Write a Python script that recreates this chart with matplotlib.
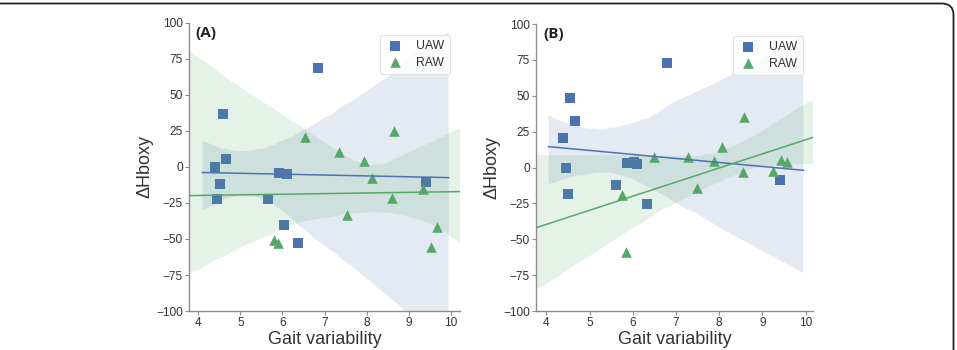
import matplotlib
matplotlib.use("Agg")
import matplotlib.pyplot as plt
from matplotlib.patches import FancyBboxPatch
import numpy as np
import seaborn as sns

plt.rcParams["font.family"] = ["Liberation Sans", "DejaVu Sans"]

BLUE = "#4c72b0"
GREEN = "#55a868"

# panel A
a_uaw_x = [4.40, 4.58, 4.67, 4.52, 4.45, 6.84, 5.91, 6.11, 5.66, 6.04, 6.36, 9.42]
a_uaw_y = [0.0, 37.0, 5.5, -12.0, -22.0, 69.0, -4.5, -5.0, -22.5, -40.0, -53.0, -10.5]
a_raw_x = [6.54, 7.34, 7.95, 8.14, 8.64, 7.53, 8.61, 9.33, 9.67, 9.52, 5.80, 5.89]
a_raw_y = [21.0, 10.5, 4.5, -7.5, 25.0, -33.5, -21.5, -15.5, -41.5, -55.5, -50.5, -52.5]

# panel B
b_uaw_x = [4.38, 4.54, 4.67, 4.45, 4.51, 6.80, 5.62, 5.87, 6.03, 6.10, 6.33, 9.40]
b_uaw_y = [20.5, 48.5, 32.5, 0.0, -18.5, 72.5, -12.0, 3.0, 4.0, 2.5, -25.5, -9.0]
b_raw_x = [5.76, 5.85, 6.50, 7.28, 7.48, 7.89, 8.07, 8.57, 8.54, 9.25, 9.43, 9.58]
b_raw_y = [-19.5, -59.0, 7.0, 7.0, -14.0, 4.5, 14.0, 35.0, -3.0, -2.5, 5.5, 3.5]

yticks = [-100, -75, -50, -25, 0, 25, 50, 75, 100]
xticks = [4, 5, 6, 7, 8, 9, 10]


def panel(ax, tag, ux, uy, rx, ry, xlim, ufit):
    # UAW fitted over a narrower span, RAW over the full axis
    ax.set_xlim(*ufit)
    sns.regplot(x=np.array(ux), y=np.array(uy), ax=ax, marker="s", color=BLUE,
                truncate=False, seed=3, label="UAW",
                scatter_kws={"s": 58, "linewidths": 0, "alpha": 1},
                line_kws={"lw": 1.1})
    ax.set_xlim(*xlim)
    sns.regplot(x=np.array(rx), y=np.array(ry), ax=ax, marker="^", color=GREEN,
                truncate=False, seed=7, label="RAW",
                scatter_kws={"s": 58, "linewidths": 0, "alpha": 1},
                line_kws={"lw": 1.1})
    ax.set_xlim(*xlim)
    ax.set_ylim(-100, 100)
    ax.set_xticks(xticks)
    ax.set_yticks(yticks)
    for s in ("top", "right"):
        ax.spines[s].set_visible(False)
    for s in ("left", "bottom"):
        ax.spines[s].set_color("#8c8c8c")
        ax.spines[s].set_linewidth(1.0)
    ax.tick_params(length=3, width=0.8, color="#8c8c8c", labelsize=8.6,
                   labelcolor="#333333", pad=1.5)
    ax.set_xlabel("Gait variability", fontsize=13, color="#333333", labelpad=1)
    ax.set_ylabel("\u0394Hboxy", fontsize=13, color="#333333", labelpad=2)
    ax.text(0.025, 0.99, tag, transform=ax.transAxes, ha="left", va="top",
            fontsize=11, fontweight="bold", family=["Open Sans", "DejaVu Sans"],
            color="#222222")
    h, l = ax.get_legend_handles_labels()
    keep = [(hh, ll) for hh, ll in zip(h, l) if ll in ("UAW", "RAW")]
    leg = ax.legend([k[0] for k in keep], [k[1] for k in keep], loc="upper right",
                    fontsize=8.8, frameon=True, handlelength=1.6, handletextpad=0.9,
                    borderpad=0.45, labelspacing=0.35, bbox_to_anchor=(0.985, 0.98))
    leg.get_frame().set_edgecolor("#dddddd")
    leg.get_frame().set_linewidth(0.8)
    for t in leg.get_texts():
        t.set_color("#333333")


fig = plt.figure(figsize=(9.57, 3.5), dpi=100)
ax1 = fig.add_axes([0.1975, 0.1114, 0.2832, 0.823])
ax2 = fig.add_axes([0.5601, 0.1114, 0.2894, 0.820])

panel(ax1, "(A)", a_uaw_x, a_uaw_y, a_raw_x, a_raw_y, (3.78, 10.22), (4.1, 9.95))
panel(ax2, "(B)", b_uaw_x, b_uaw_y, b_raw_x, b_raw_y, (3.76, 10.17), (4.05, 9.95))

# outer rounded frame (only top and right edges fall inside the image)
frame = FancyBboxPatch((-0.05, -0.1), 0.05 + 953.5 / 957, 0.1 + 346.5 / 350,
                       boxstyle="round,pad=0,rounding_size=0.012",
                       transform=fig.transFigure, fill=False,
                       edgecolor="#222222", lw=1.3, mutation_aspect=957 / 350)
fig.patches.append(frame)

fig.savefig("out.png", dpi=100)
